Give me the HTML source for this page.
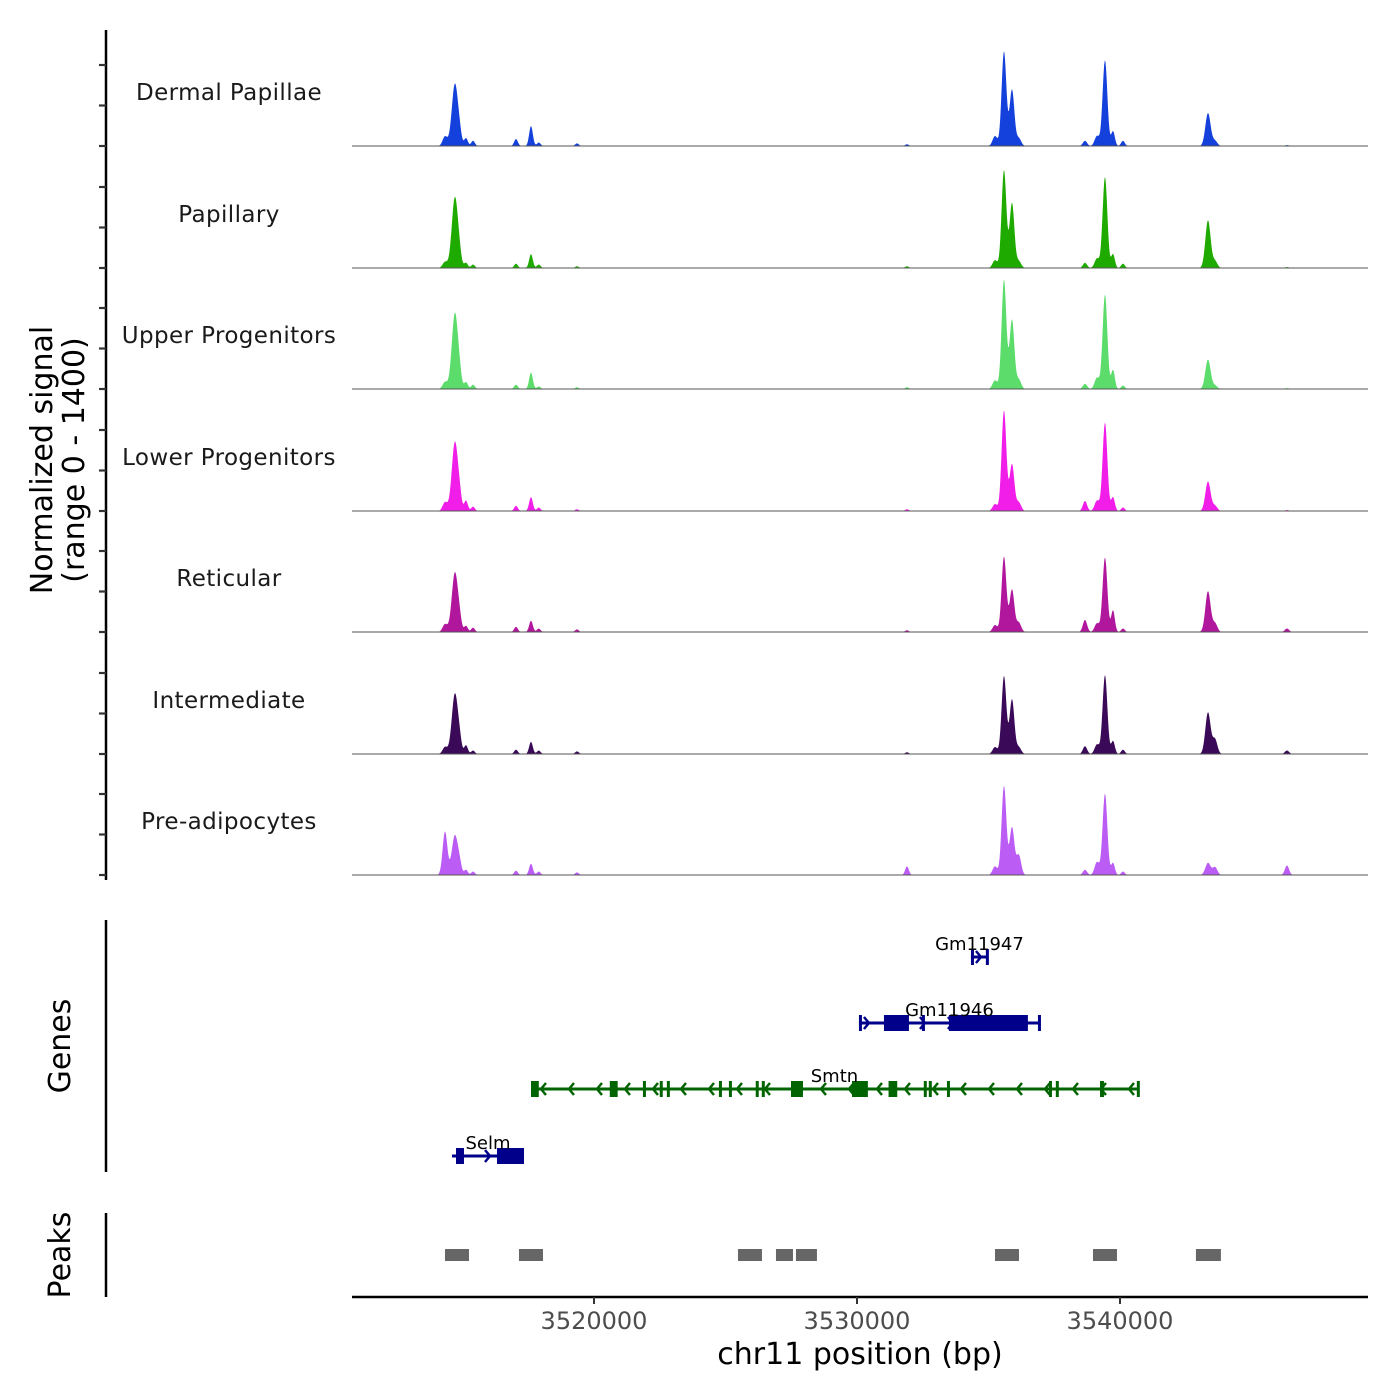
<!DOCTYPE html>
<html><head><meta charset="utf-8"><style>
body{margin:0;background:#fff;}
svg{display:block;font-family:"DejaVu Sans","Liberation Sans",sans-serif;}
</style></head><body>
<svg id="chart" width="1400" height="1400" viewBox="0 0 1400 1400" xmlns="http://www.w3.org/2000/svg"></svg>
<script>
const trackNames=["Dermal Papillae","Papillary","Upper Progenitors","Lower Progenitors","Reticular","Intermediate","Pre-adipocytes"];
const trackColors=["#1440dc","#1faa00","#5cdc6a","#f01ee8","#b0179d","#3a0a58","#bb5cf5"];
const peakPos=[3514334,3514714,3514900,3515133,3515400,3517034,3517604,3517900,3519353,3531901,3535247,3535589,3535893,3536150,3538669,3539126,3539429,3539734,3540114,3543346,3543612,3546349];
const peakWidth=[90,120,70,70,70,70,70,70,70,70,90,90,90,90,80,90,90,70,70,100,90,80];
const heightsDermal=[110,720,80,90,60,80,230,40,30,20,115,1090,650,90,60,115,990,170,60,380,60,10];
const heightsPapillary=[70,820,70,60,40,50,160,40,20,20,90,1130,750,80,60,110,1050,160,50,550,80,10];
const heightsUpper=[80,880,90,80,50,50,190,30,20,20,100,1260,800,110,60,130,1090,220,40,340,40,10];
const heightsLower=[100,800,100,120,50,60,160,40,20,20,80,1160,540,100,115,120,1020,160,40,340,60,10];
const heightsReticular=[90,690,80,70,50,60,130,40,30,20,80,870,490,110,140,100,860,250,40,470,100,40];
const heightsIntermediate=[80,700,90,100,40,50,140,40,30,20,80,900,630,80,90,110,910,150,50,480,170,40];
const heightsPreadipo=[500,460,80,60,40,50,130,40,30,100,100,1030,550,230,60,150,940,140,40,140,90,110];
const trackHeights=[heightsDermal,heightsPapillary,heightsUpper,heightsLower,heightsReticular,heightsIntermediate,heightsPreadipo];
const xTicks=[3520000,3530000,3540000];
const peakRegions=[[3514334,3515246],[3517147,3518060],[3525474,3526386],[3526919,3527565],[3527679,3528477],[3535247,3536159],[3538973,3539885],[3542887,3543837]];
const genes=[
 {name:"Gm11947",start:3534333,end:3534980,strand:1,color:"#00008b",row:0,exons:[[3534333,3534420],[3534900,3534980]]},
 {name:"Gm11946",start:3530074,end:3536956,strand:1,color:"#00008b",row:1,exons:[[3530074,3530150],[3531025,3531975],[3532469,3532540],[3533495,3536498],[3536880,3536956]]},
 {name:"Smtn",start:3517604,end:3540682,strand:-1,color:"#006400",row:2,exons:[[3517604,3517900],[3520600,3520900],[3521860,3521940],[3522500,3522590],[3522770,3522850],[3524750,3524830],[3525130,3525210],[3526150,3526240],[3526380,3526470],[3527490,3527946],[3529810,3530414],[3531200,3531530],[3532540,3532620],[3532730,3532810],[3533420,3533500],[3537300,3537370],[3537560,3537640],[3539240,3539390],[3540640,3540682]]},
 {name:"Selm",start:3514600,end:3517338,strand:1,color:"#00008b",row:3,exons:[[3514752,3515056],[3516311,3517338]]}
];
const NS="http://www.w3.org/2000/svg";
const svg=document.getElementById("chart");
const X0=352,X1=1368,BP0=3510798,BP1=3549430;
function xs(bp){return X0+(bp-BP0)/(BP1-BP0)*(X1-X0);}
const baselines=[146,268,389,511,632,754,875];
const TH=121.5;
function ys(v,i){return baselines[i]-v/1400*TH;}
function el(tag,attrs,parent){const e=document.createElementNS(NS,tag);for(const k in attrs)e.setAttribute(k,attrs[k]);(parent||svg).appendChild(e);return e;}
function txt(s,attrs,parent){const e=el("text",attrs,parent);e.textContent=s;return e;}

let a=el("line",{x1:106,y1:30,x2:106,y2:880,stroke:"#000","stroke-width":2.5});


for(let i=0;i<7;i++){for(let k=0;k<3;k++){const y=baselines[i]-k*TH/3;
 const t=el("line",{x1:99,y1:y,x2:106,y2:y,stroke:"#333","stroke-width":2.2});
 
 }}
let g1=el("line",{x1:106,y1:920,x2:106,y2:1172,stroke:"#000","stroke-width":2.5});


let p1=el("line",{x1:106,y1:1213,x2:106,y2:1297,stroke:"#000","stroke-width":2.5});



let yt=txt("Normalized signal",{x:0,y:0,"font-size":30,"text-anchor":"middle",fill:"#000",transform:"translate(52,460) rotate(-90)"});


let yt2=txt("(range 0 - 1400)",{x:0,y:0,"font-size":30,"text-anchor":"middle",fill:"#000",transform:"translate(84,460) rotate(-90)"});


let gt=txt("Genes",{x:0,y:0,"font-size":30,"text-anchor":"middle",fill:"#000",transform:"translate(70,1046) rotate(-90)"});


let pt=txt("Peaks",{x:0,y:0,"font-size":30,"text-anchor":"middle",fill:"#000",transform:"translate(70,1255) rotate(-90)"});



for(let i=0;i<7;i++){
 const hs=trackHeights[i];
 let d="M"+X0+","+baselines[i];
 for(let bp=BP0;bp<=BP1;bp+=25){
  let v=0;for(let j=0;j<peakPos.length;j++){const dd=(bp-peakPos[j])/peakWidth[j];v+=hs[j]*Math.exp(-0.5*dd*dd);}
  d+="L"+xs(bp).toFixed(2)+","+ys(v,i).toFixed(2);
 }
 d+="L"+X1+","+baselines[i]+"Z";
 const p=el("path",{d:d,fill:trackColors[i],stroke:"none"});
 
 
 const b=el("line",{x1:X0,y1:baselines[i],x2:X1,y2:baselines[i],stroke:"#555","stroke-width":1});
 
 
 const l=txt(trackNames[i],{x:229,y:baselines[i]-46,"font-size":23,"text-anchor":"middle",fill:"#1a1a1a","letter-spacing":"0.4"});
 
 
}

const rowY=[957,1023,1089,1156];
genes.forEach(g=>{
 const y=rowY[g.row];const gg=el("g",{});
 
 
 el("line",{x1:xs(g.start),y1:y,x2:xs(g.end),y2:y,stroke:g.color,"stroke-width":3},gg);
 for(let x=xs(g.start)+10;x<xs(g.end)-4;x+=28){
  const s=g.strand;
  el("path",{d:`M${x-5*s},${y-6}L${x},${y}L${x-5*s},${y+6}`,stroke:g.color,"stroke-width":2.5,fill:"none"},gg);
 }
 g.exons.forEach(e=>{const x1=xs(e[0]),x2=Math.max(xs(e[1]),x1+3);
  el("rect",{x:x1,y:y-8,width:x2-x1,height:16,fill:g.color},gg);});
 txt(g.name,{x:(xs(g.start)+xs(g.end))/2,y:y-7,"font-size":18,"text-anchor":"middle",fill:"#000"},gg);
});
peakRegions.forEach(r=>{const p=el("rect",{x:xs(r[0]),y:1249,width:xs(r[1])-xs(r[0]),height:12,fill:"#666"});
 
 });
const xa=el("line",{x1:X0,y1:1297,x2:X1,y2:1297,stroke:"#000","stroke-width":2.5});


xTicks.forEach(t=>{const l=el("line",{x1:xs(t),y1:1297,x2:xs(t),y2:1304,stroke:"#333","stroke-width":2});
 
 
 const tl=txt(String(t),{x:xs(t),y:1329,"font-size":24,"text-anchor":"middle",fill:"#4d4d4d"});
 
 });
const xt=txt("chr11 position (bp)",{x:860,y:1364,"font-size":30,"text-anchor":"middle",fill:"#000"});


</script>
</body></html>
